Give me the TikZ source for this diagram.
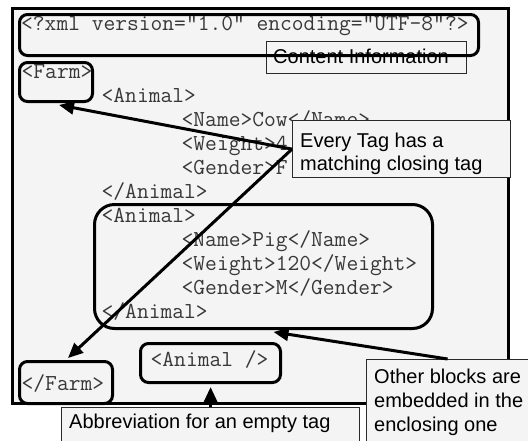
\documentclass[tikz,border=0pt]{standalone}
\usepackage{fontspec}
\setmainfont{Liberation Sans}
\usetikzlibrary{arrows.meta,calc}
\definecolor{paper}{HTML}{F4F4F4}
\definecolor{codeink}{HTML}{383838}
\definecolor{noteline}{HTML}{2A2A2A}

\begin{document}
\begin{tikzpicture}[x=1pt,y=-1pt,
  code/.style={anchor=base west, inner sep=0pt, text=codeink,
    font=\ttfamily\fontsize{22.86}{24}\selectfont},
  note/.style={anchor=base west, inner sep=0pt, text=black,
    font=\fontsize{20}{23}\selectfont},
  tagbox/.style={draw=black, line width=3pt, rounded corners=8pt,
    inner sep=0pt, anchor=north west},
  notebox/.style={draw=noteline, line width=1.2pt, fill=paper,
    inner sep=0pt, anchor=north west},
  pointer/.style={draw=black, line width=3pt,
    -{Triangle[length=15pt,width=13pt]}},
]
\useasboundingbox (0,0) rectangle (528,440);
\clip (0,0) rectangle (528,440);
\fill[white] (0,0) rectangle (528,440);

% document frame
\node[draw=black, fill=paper, line width=3pt, inner sep=0pt, anchor=north west,
  minimum width=496pt, minimum height=395pt] (frame) at (11,6.5) {};

% XML declaration and its note
\node[notebox, minimum width=200pt, minimum height=32pt] (content) at (266,41) {};
\node[note] (contenttext) at (273,63) {Content Information};
\node[code] (xmlline) at (21,30) {<?xml version="1.0" encoding="UTF-8"?>};
\node[tagbox, minimum width=459pt, minimum height=41pt] (xmldecl) at (18,13) {};

% document body
\node[code] (l1)  at (21.5,78)  {<Farm>};
\node[code] (l2)  at (101.5,102) {<Animal>};
\node[code] (l3)  at (181.5,126) {<Name>Cow</Name>};
\node[code] (l4)  at (181.5,150) {<Weight>4};
\node[code] (l5)  at (181.5,174) {<Gender>F};
\node[code] (l6)  at (101.5,198) {</Animal>};
\node[code] (l7)  at (101.5,222) {<Animal>};
\node[code] (l8)  at (181.5,246) {<Name>Pig</Name>};
\node[code] (l9)  at (181.5,270) {<Weight>120</Weight>};
\node[code] (l10) at (181.5,294) {<Gender>M</Gender>};
\node[code] (l11) at (101.5,318) {</Animal>};
\node[code] (l12) at (150.5,366) {<Animal />};
\node[code] (l13) at (21.5,390) {</Farm>};

% highlighted tags
\node[tagbox, minimum width=73pt, minimum height=39pt] (farm) at (18,61) {};
\node[tagbox, rounded corners=20pt, minimum width=338pt, minimum height=124pt] (pig) at (93,203) {};
\node[tagbox, minimum width=140pt, minimum height=39pt] (empty) at (139,342) {};
\node[tagbox, minimum width=93pt, minimum height=42pt] (endfarm) at (18,360) {};

% note on closing tags
\node[notebox, minimum width=218pt, minimum height=57pt] (tagnote) at (292,120) {};
\node[note] (tagnote1) at (300,147) {Every Tag has a};
\node[note] (tagnote2) at (300,170) {matching closing tag};
\draw[pointer] (tagnote.west) -- ([shift={(3,2)}]farm.south);
\draw[pointer] (tagnote.west) -- ([shift={(2,-2)}]endfarm.north);

% note on nesting
\node[notebox, minimum width=180pt, minimum height=100pt] (nestnote) at (366,359) {};
\node[note] (nestnote1) at (374,383) {Other blocks are};
\node[note] (nestnote2) at (374,407) {embedded in the};
\node[note] (nestnote3) at (374,431) {enclosing one};
\draw[pointer] ([shift={(-9,0)}]nestnote.north) -- ([shift={(10,2)}]pig.south);

% note on empty tags
\node[notebox, minimum width=298pt, minimum height=60pt] (abbrev) at (61,407) {};
\node[note] (abbrevtext) at (69,428) {Abbreviation for an empty tag};
\draw[pointer] (abbrev.north) -- ($(abbrev.north |- empty.south)+(0,3)$);
\end{tikzpicture}
\end{document}
